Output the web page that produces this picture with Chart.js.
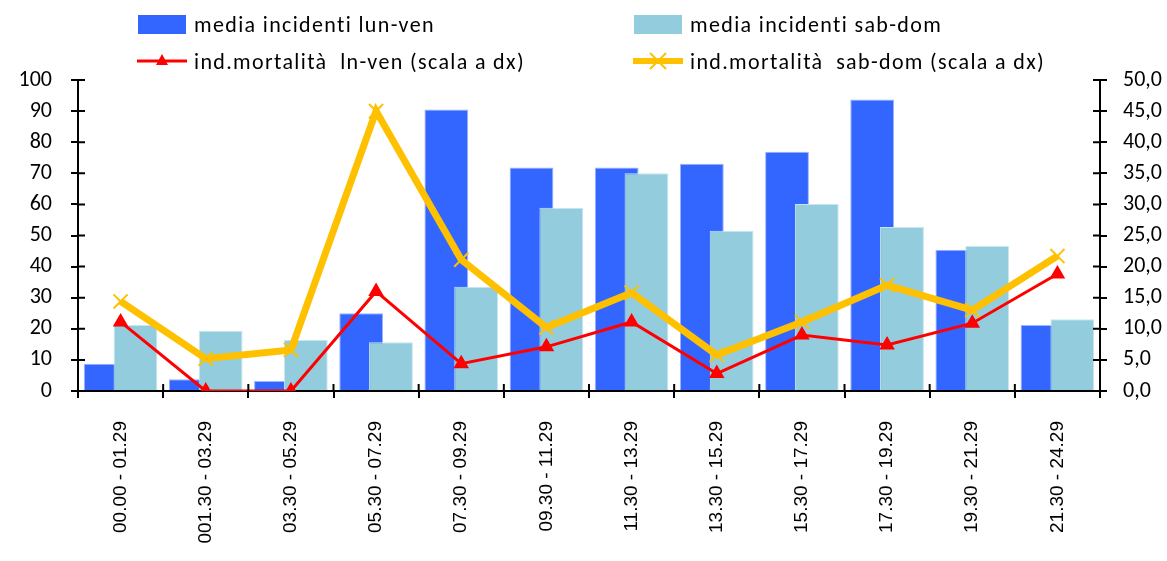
<!DOCTYPE html>
<html>
<head>
<meta charset="utf-8">
<script src="https://cdn.jsdelivr.net/npm/chart.js@4.4.0/dist/chart.umd.min.js"></script>
<style>
  body { margin: 0; background: #fff; }
  #wrap { position: relative; width: 1167px; height: 561px; }
  .leg {
    position: absolute; display: flex; align-items: center; height: 24px;
    font: 22px Carlito, "Liberation Sans", sans-serif; color: #000; white-space: nowrap;
    letter-spacing: 1.35px;
  }
  .leg .sw { width: 48px; height: 19px; margin-right: 8px; }
  .leg svg { margin-right: 7px; }
</style>
</head>
<body>
<div id="wrap">
  <canvas id="chart" width="1167" height="561"></canvas>
  <div class="leg" style="left:138px;top:12px"><div class="sw" style="background:#3366ff"></div>media incidenti lun-ven</div>
  <div class="leg" style="left:634px;top:12px"><div class="sw" style="background:#93cddd"></div>media incidenti sab-dom</div>
  <div class="leg" style="left:137px;top:49px">
    <svg width="50" height="20"><line x1="0" y1="10" x2="50" y2="10" stroke="#ff0000" stroke-width="3"/><polygon points="25,3 31,14 19,14" fill="#ff0000"/></svg>ind.mortalità&nbsp; ln-ven (scala a dx)</div>
  <div class="leg" style="left:633px;top:49px">
    <svg width="50" height="20"><line x1="0" y1="10" x2="50" y2="10" stroke="#ffc000" stroke-width="6"/><path d="M17 2 L33 18 M33 2 L17 18" stroke="#ffc000" stroke-width="2"/></svg>ind.mortalità&nbsp; sab-dom (scala a dx)</div>
</div>
<script>
// fasce orarie
const fasce = [
  "00.00 - 01.29", "001.30 - 03.29", "03.30 - 05.29", "05.30 - 07.29",
  "07.30 - 09.29", "09.30 - 11.29", "11.30 - 13.29", "13.30 - 15.29",
  "15.30 - 17.29", "17.30 - 19.29", "19.30 - 21.29", "21.30 - 24.29"
];
// media incidenti (scala sx)
const incLunVen = [8.8, 3.8, 3.2, 25.0, 90.5, 71.9, 71.9, 73.1, 76.9, 93.7, 45.4, 21.2];
const incSabDom = [21.2, 19.4, 16.4, 15.7, 33.5, 58.9, 70.0, 51.5, 60.1, 52.7, 46.6, 23.1];
// indice di mortalità (scala dx)
const mortLnVen = [11.1, 0.0, 0.0, 16.0, 4.4, 7.1, 11.1, 2.8, 9.0, 7.4, 10.9, 18.8];
const mortSabDom = [14.4, 5.2, 6.6, 45.0, 21.1, 10.2, 15.8, 5.8, 11.1, 17.0, 13.0, 21.7];

const tickFont = { family: "Carlito, 'Liberation Sans', sans-serif", size: 22 };

// tacche che attraversano l'asse (come Excel)
const innerTicks = {
  id: "innerTicks",
  afterDraw(chart) {
    const c = chart.ctx, a = chart.chartArea;
    const step = a.width / fasce.length;
    c.save();
    c.strokeStyle = "#000";
    c.lineWidth = 2;
    c.beginPath();
    for (let i = 0; i <= fasce.length; i++) {
      c.moveTo(a.left + i * step, a.bottom);
      c.lineTo(a.left + i * step, a.bottom - 7);
    }
    chart.scales.y.ticks.forEach((t) => {
      const py = chart.scales.y.getPixelForValue(t.value);
      c.moveTo(a.left, py);
      c.lineTo(a.left + 7, py);
    });
    chart.scales.y1.ticks.forEach((t) => {
      const py = chart.scales.y1.getPixelForValue(t.value);
      c.moveTo(a.right, py);
      c.lineTo(a.right - 7, py);
    });
    c.stroke();
    c.restore();
  },
};

// le barre sab-dom stanno sopra quelle lun-ven (come in Excel)
const barsOnTop = {
  id: "barsOnTop",
  beforeDatasetDraw(chart, args) {
    if (args.index === 1) return false;
  },
  afterDatasetDraw(chart, args) {
    if (args.index === 0) chart.getDatasetMeta(1).controller.draw();
  },
};

new Chart(document.getElementById("chart"), {
  type: "bar",
  data: {
    labels: fasce,
    datasets: [
      {
        label: "media incidenti lun-ven",
        data: incLunVen,
        backgroundColor: "#3366ff",
        borderColor: "#9db4ff",
        borderWidth: 1,
        categoryPercentage: 0.7,
        barPercentage: 1.47,
        order: 2,
      },
      {
        label: "media incidenti sab-dom",
        data: incSabDom,
        backgroundColor: "#93cddd",
        borderColor: "#c9e6ee",
        borderWidth: 1,
        categoryPercentage: 0.7,
        barPercentage: 1.47,
        order: 3,
      },
      {
        type: "line",
        label: "ind.mortalità ln-ven (scala a dx)",
        data: mortLnVen,
        yAxisID: "y1",
        borderColor: "#ff0000",
        borderWidth: 3,
        pointStyle: "triangle",
        pointRadius: 6,
        pointBackgroundColor: "#ff0000",
        pointBorderColor: "#ff0000",
        tension: 0,
        order: 1,
      },
      {
        type: "line",
        label: "ind.mortalità sab-dom (scala a dx)",
        data: mortSabDom,
        yAxisID: "y1",
        borderColor: "#ffc000",
        borderWidth: 7,
        pointStyle: "crossRot",
        pointRadius: 10,
        pointBorderWidth: 2,
        pointBorderColor: "#ffc000",
        tension: 0,
        order: 0,
      },
    ],
  },
  options: {
    responsive: false,
    animation: false,
    devicePixelRatio: 1,
    layout: { padding: { top: 80 } },
    plugins: { legend: { display: false }, tooltip: { enabled: false } },
    scales: {
      x: {
        afterFit: (s) => { s.height = 170; },
        border: { color: "#000", width: 2 },
        grid: { drawOnChartArea: false, color: "#000", lineWidth: 2, tickLength: 7 },
        ticks: {
          color: "#000",
          minRotation: 90,
          maxRotation: 90,
          autoSkip: false,
          padding: 23,
          font: { family: "'Liberation Sans', Arial, sans-serif", size: 19 },
        },
      },
      y: {
        position: "left",
        min: 0,
        max: 100,
        afterFit: (s) => { s.width = 78; },
        border: { color: "#000", width: 2 },
        grid: { drawOnChartArea: false, color: "#000", lineWidth: 2, tickLength: 7 },
        ticks: { stepSize: 10, color: "#000", padding: 19, font: tickFont },
      },
      y1: {
        position: "right",
        min: 0,
        max: 50,
        afterFit: (s) => { s.width = 67; },
        border: { color: "#000", width: 2 },
        grid: { drawOnChartArea: false, color: "#000", lineWidth: 2, tickLength: 7 },
        ticks: {
          stepSize: 5,
          color: "#000",
          padding: 16,
          font: tickFont,
          callback: (v) => v.toFixed(1).replace(".", ","),
        },
      },
    },
  },
  plugins: [innerTicks, barsOnTop],
});
</script>
</body>
</html>
